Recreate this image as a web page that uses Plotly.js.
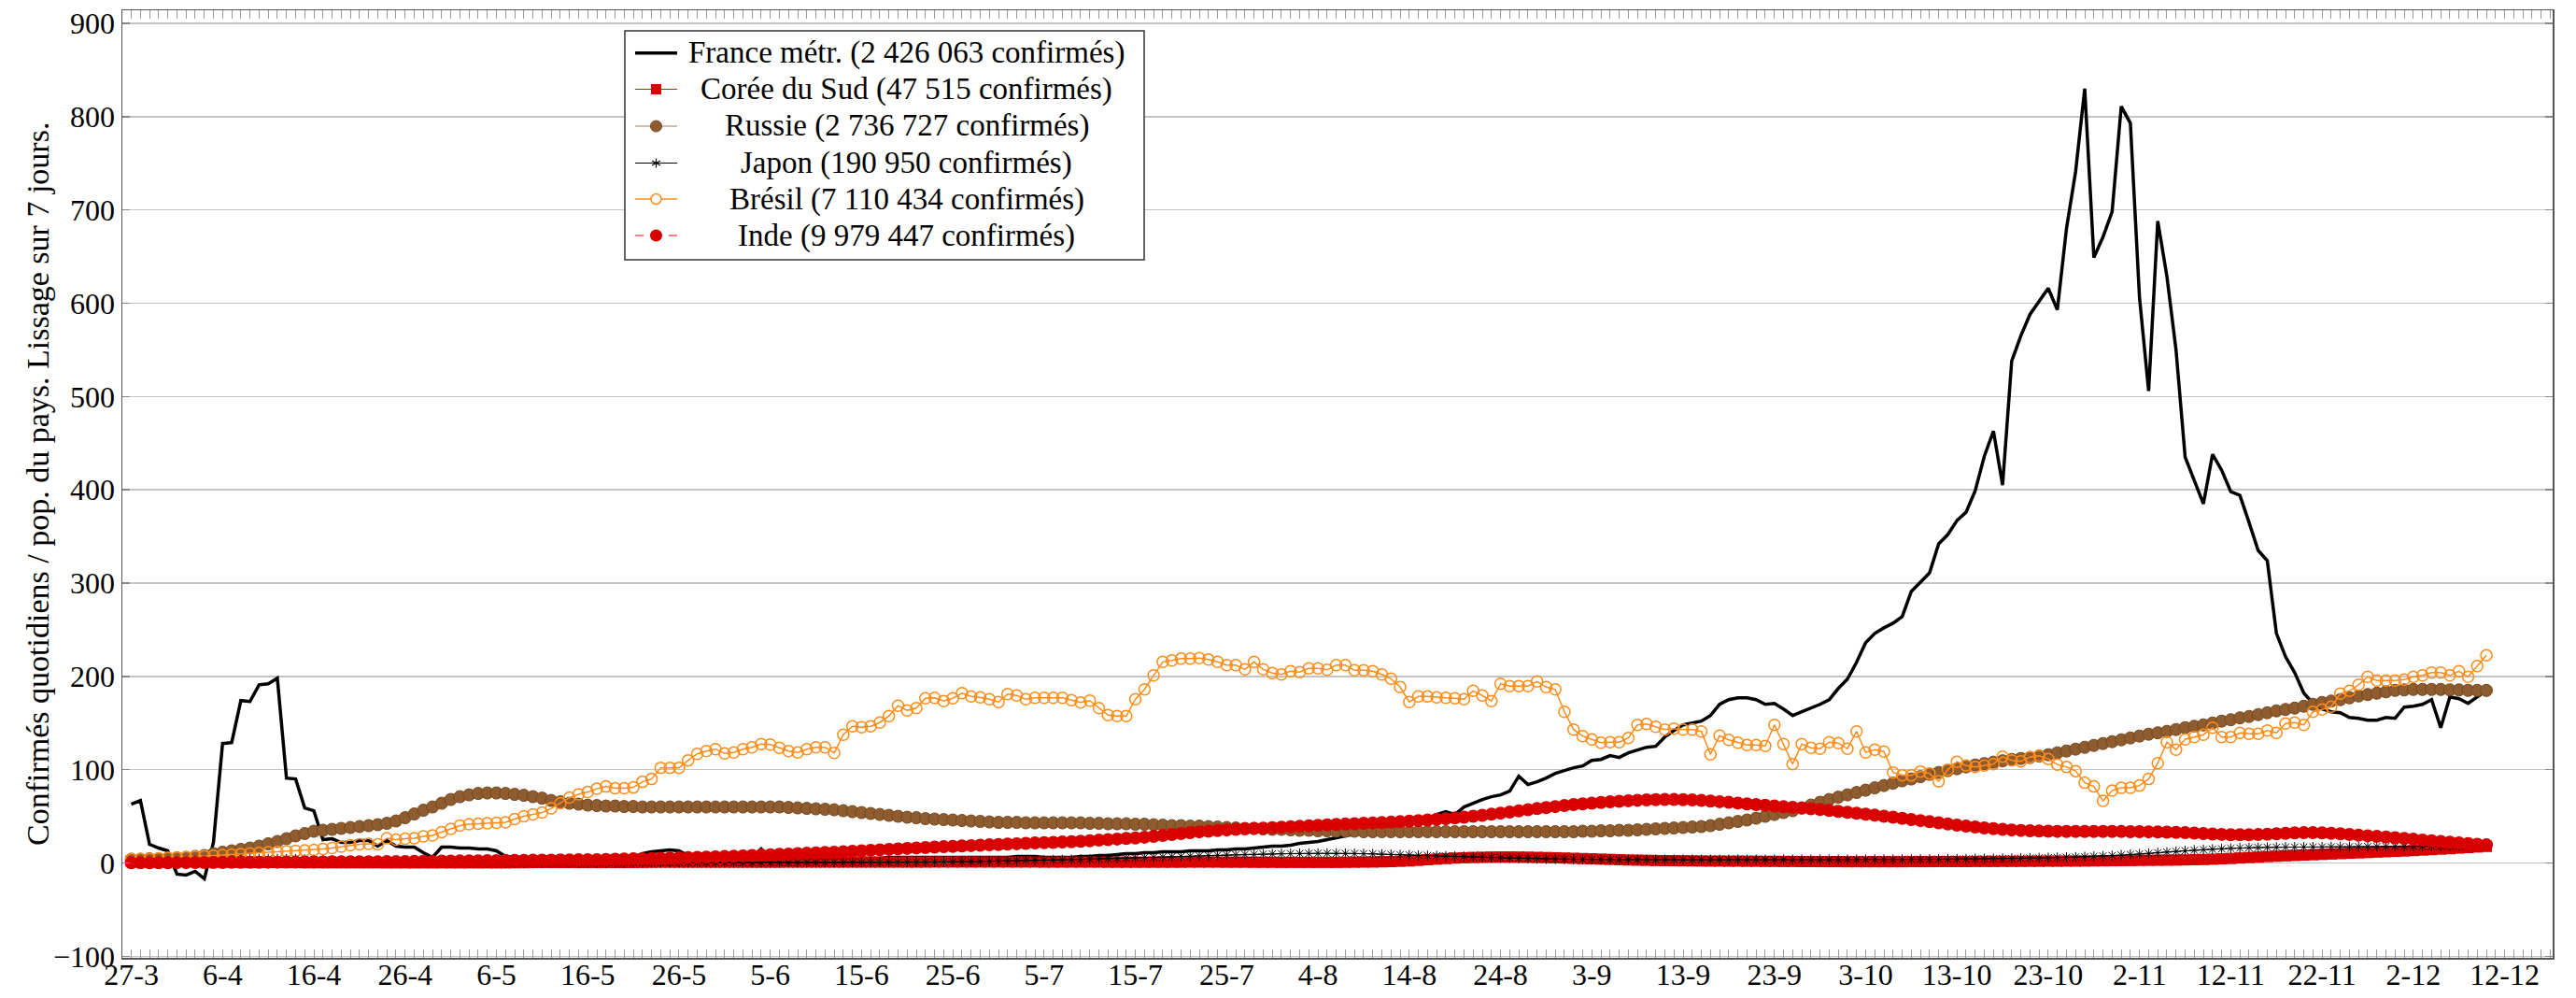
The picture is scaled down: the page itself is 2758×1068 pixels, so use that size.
<!DOCTYPE html>
<html>
<head>
<meta charset="utf-8">
<script src="https://cdn.plot.ly/plotly-3.0.1.min.js"></script>
<style>
  html, body { margin: 0; padding: 0; background: #fff; }
  #chart { width: 2758px; height: 1068px; }
</style>
</head>
<body>
<div id="chart"></div>
<script>
// ---- Data (daily, from 27-3-2020, one value per day) ----
const startDate = '2020-03-27';

const tickDates = ['2020-03-27','2020-04-06','2020-04-16','2020-04-26','2020-05-06','2020-05-16','2020-05-26',
  '2020-06-05','2020-06-15','2020-06-25','2020-07-05','2020-07-15','2020-07-25','2020-08-04','2020-08-14',
  '2020-08-24','2020-09-03','2020-09-13','2020-09-23','2020-10-03','2020-10-13','2020-10-23','2020-11-02',
  '2020-11-12','2020-11-22','2020-12-02','2020-12-12'];
const tickLabels = ['27-3','6-4','16-4','26-4','6-5','16-5','26-5','5-6','15-6','25-6','5-7','15-7','25-7',
  '4-8','14-8','24-8','3-9','13-9','23-9','3-10','13-10','23-10','2-11','12-11','22-11','2-12','12-12'];

const yTickVals = [-100,0,100,200,300,400,500,600,700,800,900];
const yTickLabels = ['\u2212100','0','100','200','300','400','500','600','700','800','900'];

const seriesNames = [
  'France métr. (2 426 063 confirmés)',
  'Corée du Sud (47 515 confirmés)',
  'Russie (2 736 727 confirmés)',
  'Japon (190 950 confirmés)',
  'Brésil (7 110 434 confirmés)',
  'Inde (9 979 447 confirmés)'
];

const france = [63,67,20,16,13,-12,-13,-9,-17,22,
128,129,174,173,191,192,198,91,90,59,
56,25,26,22,22,24,24,18,24,18,
17,17,11,6,17,17,16,16,15,15,
13,7,6,6,6,6,5,5,5,5,
5,5,5,5,5,6,10,12,13,14,
13,8,5,5,5,5,5,5,6,15,
6,5,5,5,5,5,5,5,5,5,
5,5,5,6,6,6,6,6,6,6,
6,6,6,6,6,6,6,7,7,7,
6,6,6,6,7,7,8,8,9,10,
10,11,11,12,12,12,13,13,13,14,
14,15,15,16,17,18,18,19,21,22,
23,25,27,29,31,34,36,37,38,41,
44,46,48,52,55,52,60,64,68,71,
73,77,93,84,87,91,96,99,102,104,
110,111,115,113,118,121,124,125,135,142,
148,150,152,158,170,175,177,177,175,170,
171,165,158,162,166,170,175,187,197,215,
236,246,252,257,264,291,301,311,342,352,
367,376,399,436,463,405,538,565,588,602,
616,593,680,741,830,649,671,698,811,793,
606,506,688,629,550,435,411,385,438,421,
398,394,365,335,324,246,221,204,182,171,
165,162,161,156,155,153,153,156,155,167,
168,170,175,145,178,176,171,178,185];

const coree = [2.0,1.9,1.8,1.7,1.6,1.5,1.4,1.3,1.2,1.1,
1.0,0.9,0.8,0.7,0.6,0.5,0.5,0.4,0.4,0.3,
0.3,0.3,0.2,0.2,0.2,0.2,0.2,0.2,0.1,0.1,
0.1,0.1,0.1,0.1,0.1,0.1,0.1,0.1,0.1,0.1,
0.1,0.1,0.2,0.3,0.4,0.5,0.5,0.5,0.5,0.4,
0.4,0.4,0.4,0.4,0.4,0.5,0.6,0.7,0.8,0.8,
0.8,0.8,0.8,0.8,0.8,0.8,0.8,0.8,0.8,0.8,
0.8,0.8,0.9,0.9,0.9,0.9,0.9,0.9,0.9,0.9,
0.9,0.9,0.9,0.9,0.9,0.9,0.9,0.9,1.0,1.0,
1.0,1.0,1.0,1.0,1.0,1.0,1.0,1.0,1.0,1.0,
0.9,0.9,0.9,0.9,0.9,0.9,0.9,0.8,0.8,0.8,
0.8,0.8,0.8,0.8,0.8,0.8,0.9,0.9,0.9,0.9,
0.8,0.8,0.8,0.7,0.7,0.7,0.6,0.6,0.6,0.6,
0.6,0.6,0.6,0.7,0.8,0.9,1.0,1.2,1.4,1.8,
2.2,2.8,3.5,4.1,4.7,5.2,5.6,5.9,6.1,6.3,
6.4,6.4,6.3,6.2,6.0,5.8,5.6,5.3,5.0,4.7,
4.4,4.1,3.8,3.5,3.2,3.0,2.8,2.6,2.5,2.4,
2.3,2.2,2.1,2.0,2.0,1.9,1.9,1.8,1.8,1.7,
1.7,1.6,1.6,1.5,1.5,1.4,1.4,1.4,1.3,1.3,
1.3,1.3,1.3,1.3,1.3,1.4,1.4,1.4,1.5,1.5,
1.5,1.5,1.6,1.6,1.6,1.7,1.7,1.7,1.8,1.8,
1.9,1.9,2.0,2.0,2.1,2.2,2.3,2.4,2.5,2.6,
2.7,2.8,2.9,3.0,3.1,3.3,3.5,3.7,4.0,4.4,
4.8,5.3,5.8,6.3,6.8,7.2,7.6,8.0,8.4,8.8,
9.2,9.6,10.0,10.4,10.8,11.2,11.6,12.0,12.4,12.8,
13.3,13.8,14.3,14.8,15.3,15.9,16.5,17.1,17.7];

const russie = [4,4,4.5,4.5,5,5.5,6,7,8,10,
11.5,13,14.5,16,18,20.5,23,26,29,31.5,
34,35,36,37,38,39,40,41,42.5,45,
48.5,52.5,56.5,60,64,68,71,73,74.5,75,
75,74.5,73.5,72.5,71,69.5,67,65.5,64,63,
62,61.5,61,61,60.5,60.5,60,60,60,60,
60,60,60,60,60,60,60,60,60,60,
60,60,59.5,59,58.5,58,57.5,57,56,55,
54,53,52,51,50,49,48.5,47.5,47,46.5,
46,45.5,45,44.5,44,43.5,43.5,43.5,43,43,
43,43,43,43,43,42.5,42.5,42,42,42,
41.5,41.5,41,40.5,40,40,39.5,39.5,39,38.5,
38,37.5,37,37,36.5,36,36,35.5,35,35,
34.5,34.5,34,34,34,33.5,33.5,33.5,33.5,33.5,
33.5,33.5,33.5,33.5,33.5,33.5,33.5,33.5,33.5,33.5,
33.5,33.5,33.5,33.5,33.5,33.5,33.5,33.5,33.5,34,
34,34.5,34.5,35,35,35.5,36,36.5,37,37.5,
38,38.5,39,40,41.5,43,44.5,46,48,50,
52,54,56,59,62,65,68,70.5,73,75.5,
78,80.5,83,85.5,88,90,92.5,95,97,99,
101,103,105,106.5,108,109.5,111,112,113,114.5,
116,118,120,122,124,126,128,130,132,134,
136,138,139.5,141,143,145,146.5,148,150,152,
153.5,155.5,157,159,161,163,164.5,166,168,170,
172,173.5,175,177,179,180.5,182,183.5,185,185.5,
186,186,186,186,185.5,185.5,185,185,185];

const japon = [0.8,1.0,1.2,1.4,1.6,1.8,2.0,2.3,2.6,2.9,
3.2,3.5,3.8,4.0,4.2,4.3,4.3,4.2,4.0,3.8,
3.6,3.3,3.0,2.7,2.4,2.1,1.8,1.5,1.3,1.1,
0.9,0.8,0.7,0.6,0.5,0.4,0.4,0.3,0.3,0.3,
0.3,0.2,0.2,0.2,0.2,0.2,0.2,0.2,0.2,0.2,
0.2,0.2,0.2,0.2,0.2,0.3,0.3,0.3,0.3,0.3,
0.3,0.3,0.3,0.3,0.3,0.3,0.3,0.3,0.3,0.3,
0.3,0.3,0.3,0.3,0.4,0.4,0.4,0.4,0.4,0.5,
0.5,0.5,0.6,0.6,0.7,0.7,0.8,0.9,1.0,1.1,
1.2,1.3,1.4,1.6,1.8,2.0,2.2,2.4,2.6,2.8,
3.0,3.2,3.4,3.6,3.8,4.0,4.3,4.6,4.9,5.2,
5.5,5.8,6.1,6.4,6.7,7.0,7.3,7.6,7.9,8.2,
8.5,8.8,9.1,9.3,9.5,9.7,9.9,10.0,10.1,10.2,
10.3,10.3,10.3,10.2,10.1,9.9,9.7,9.4,9.1,8.8,
8.5,8.2,7.9,7.6,7.3,7.0,6.7,6.4,6.1,5.8,
5.5,5.2,5.0,4.8,4.6,4.4,4.2,4.1,4.0,3.9,
3.8,3.7,3.6,3.6,3.5,3.5,3.5,3.5,3.5,3.5,
3.5,3.5,3.5,3.5,3.5,3.5,3.6,3.6,3.6,3.6,
3.6,3.6,3.6,3.6,3.6,3.6,3.6,3.6,3.7,3.7,
3.7,3.7,3.8,3.8,3.8,3.9,3.9,4.0,4.0,4.1,
4.2,4.3,4.4,4.5,4.6,4.7,4.8,5.0,5.2,5.4,
5.6,5.8,6.0,6.3,6.6,7.0,7.4,7.9,8.4,9.0,
9.5,10.2,10.9,11.6,12.3,13.0,13.6,14.2,14.7,15.2,
15.6,16.0,16.3,16.5,16.7,16.8,16.9,17.0,17.0,17.1,
17.1,17.2,17.3,17.4,17.5,17.5,17.6,17.6,17.7,17.7,
17.8,17.8,17.9,17.9,18.0,18.1,18.2,18.3,18.4];

const bresil = [4,4.3,4.6,5,5.4,5.8,6.2,6.7,7.2,7.8,
8.5,9,9.6,10.2,10.8,11.4,12,12.6,13,13.5,
14,15,16,17.5,19,20,20.5,20,26.5,25,
26,26.5,28.5,29.5,33,36.5,40,41.5,42,42.5,
43,43.5,47,50,52,54,58.5,64,70,73.5,
76,79.5,82,80,80,81,87,90,102,102,
102,110,117,120,122,117.5,118.5,122,124,127.5,
127,123.5,120,118.5,122,124,124,118,137.5,146.5,
145.5,146.5,150.5,157.5,168.5,163.5,166,176.5,177,173.5,
176.5,182,178.5,177.5,175.5,172.5,181,179.5,175.5,177,
177,177,177,174.5,172,174,166,158.5,157.5,157.5,
175.5,186,201,215.5,217,219,219,219.5,218,215.5,
212,212,207.5,215.5,207.5,203.5,202,205.5,204.5,208.5,
208.5,207,212,212,206.5,206.5,205.5,202,197.5,188.5,
172.5,178.5,178.5,177.5,177,176.5,175.5,184.5,179.5,173.5,
192,189.5,189.5,189.5,194.5,188.5,186,162,143,136,
132.5,129,129.5,129.5,134,148,149,146,143,144,
143,143,141,116.5,136.5,132,129,126.5,126.5,125.5,
148,127.5,106,127.5,123.5,122.5,129.5,128.5,122.5,141,
118.5,121.5,119.5,97,94,94,98,96,87.5,100,
108.5,104.5,103,104.5,106,114,110,109,113.5,115,
111.5,105.5,103,98.5,86,82,66.5,77.5,80.5,80.5,
83,90,107,129.5,121.5,132.5,135,137.5,145,135,
135,139.5,138.5,138.5,142,139.5,149.5,150.5,148,162,
164.5,167.5,181.5,184.5,191,199.5,195.5,195.5,195.5,196.5,
199.5,201,204,204,201,205.5,199.5,211,222.5];

const inde = [0.1,0.1,0.1,0.2,0.2,0.3,0.3,0.4,0.4,0.5,
0.5,0.6,0.6,0.7,0.7,0.8,0.8,0.9,0.9,1.0,
1.0,1.0,1.1,1.1,1.2,1.2,1.3,1.3,1.4,1.5,
1.5,1.6,1.7,1.8,1.9,2.0,2.1,2.2,2.3,2.4,
2.5,2.6,2.7,2.8,2.9,3.0,3.1,3.2,3.3,3.4,
3.5,3.6,3.8,4.0,4.2,4.4,4.6,4.8,5.0,5.2,
5.4,5.7,6.0,6.3,6.6,6.9,7.2,7.6,8.0,8.4,
8.8,9.2,9.6,10,10.4,10.8,11.2,11.6,12.1,12.6,
13.1,13.6,14.1,14.6,15.1,15.6,16.1,16.5,17,17.4,
17.8,18.2,18.6,19,19.4,19.8,20.2,20.6,21,21.4,
21.7,22,22.4,22.8,23.3,23.8,24.4,25,25.6,26.2,
26.8,27.6,28.5,29.4,30.4,31.4,32.4,33.4,34.1,34.8,
35.4,36,36.5,37,37.4,37.9,38.4,38.9,39.4,39.9,
40.4,40.9,41.3,41.7,42.1,42.5,42.9,43.3,43.7,44.2,
44.8,45.4,46,46.7,47.4,48.2,49,50,51,52.2,
53.4,54.6,55.8,57,58.2,59.3,60.4,61.5,62.5,63.3,
64.1,64.8,65.5,66.1,66.7,67.2,67.6,67.9,68,68,
67.8,67.5,67,66.4,65.7,65,64.2,63.4,62.6,61.8,
61,60.2,59.5,58.8,58,57.2,56.3,55.3,54.3,53.3,
52.3,51.2,50.1,49,47.8,46.6,45.4,44.2,43,41.8,
40.6,39.5,38.5,37.6,36.8,36,35.4,34.9,34.5,34.2,
34,33.9,33.8,33.8,33.8,33.8,33.8,33.8,33.7,33.6,
33.5,33.4,33.2,33,32.7,32.4,32,31.5,31,30.6,
30.3,30.2,30.2,30.4,30.8,31.3,31.8,32.2,32.4,32.4,
32.2,31.8,31.2,30.5,29.8,29.1,28.4,27.7,27,26.2,
25.4,24.6,23.8,23,22.2,21.5,20.8,20.1,19.4];

// ---- x categories: one date per value ----
function buildDates(n) {
  const t0 = Date.parse(startDate + 'T00:00:00Z');
  const out = [];
  for (let i = 0; i < n; i++) out.push(new Date(t0 + i * 86400000).toISOString().slice(0, 10));
  return out;
}
const dates = buildDates(france.length);

const FONT = 'Liberation Serif, "Times New Roman", serif';

// ---- styles ----
const styles = [
  { line: { color: '#000000', width: 3.5 }, mode: 'lines' },
  { line: { color: '#ff0000', width: 1 }, mode: 'lines+markers',
    marker: { symbol: 'square', size: 12, color: '#d80000', line: { width: 0 } } },
  { line: { color: '#a27b58', width: 1 }, mode: 'lines+markers',
    marker: { symbol: 'circle', size: 13, color: '#8e5c2f', line: { color: '#74481f', width: 1 } } },
  { line: { color: '#000000', width: 1 }, mode: 'lines+markers',
    marker: { symbol: 'asterisk-open', size: 9, color: '#000000', line: { color: '#000000', width: 1 } } },
  { line: { color: '#ff8c1a', width: 1.5 }, mode: 'lines+markers',
    marker: { symbol: 'circle-open', size: 12, color: '#ff8c1a', line: { color: '#ff8c1a', width: 1.5 } } },
  { line: { color: '#ff0000', width: 1, dash: 'dash' }, mode: 'lines+markers',
    marker: { symbol: 'circle', size: 14, color: '#d80000', line: { width: 0 } } }
];
const values = [france, coree, russie, japon, bresil, inde];

const traces = values.map((v, i) => Object.assign({
  name: seriesNames[i], x: dates, y: v, type: 'scatter', showlegend: false
}, styles[i]));

// ---- legend drawn as a box with centred entries (as in the reference) ----
const W = 2758, H = 1068, ML = 131, MR = 25, MT = 11, MB = 43;
const PW = W - ML - MR, PH = H - MT - MB;
const px2x = px => (px - ML) / PW;
const px2y = py => (H - MB - py) / PH;

const legBox = { left: 669, right: 1225, top: 33, bottom: 278 };
const legRows = [56.7, 95.5, 135, 174.5, 213, 252];
const legTextX = 970.5, legSampleX0 = 680, legSampleX1 = 725, legMarkX = 702.5;

const shapes = [{
  type: 'rect', xref: 'paper', yref: 'paper', layer: 'above',
  x0: px2x(legBox.left), x1: px2x(legBox.right), y0: px2y(legBox.bottom), y1: px2y(legBox.top),
  fillcolor: '#ffffff', line: { color: '#333333', width: 1.5 }
}];
const annotations = [];

styles.forEach((s, i) => {
  const yy = px2y(legRows[i]);
  shapes.push({ type: 'line', xref: 'paper', yref: 'paper', layer: 'above',
    x0: px2x(legSampleX0), x1: px2x(legSampleX1), y0: yy, y1: yy,
    line: { color: s.line.color, width: s.line.width, dash: s.line.dash || 'solid' } });
  if (s.marker) {
    const m = s.marker, r = (m.size - 1) / 2;
    const base = { xref: 'paper', yref: 'paper', layer: 'above', xsizemode: 'pixel', ysizemode: 'pixel',
      xanchor: px2x(legMarkX), yanchor: yy };
    if (m.symbol === 'square') {
      shapes.push(Object.assign({ type: 'rect', x0: -r, x1: r, y0: -r, y1: r,
        fillcolor: m.color, line: { width: 0 } }, base));
    } else if (m.symbol === 'circle') {
      shapes.push(Object.assign({ type: 'circle', x0: -r, x1: r, y0: -r, y1: r,
        fillcolor: m.color, line: { color: m.line.color || m.color, width: m.line.width || 0 } }, base));
    } else if (m.symbol === 'circle-open') {
      shapes.push(Object.assign({ type: 'circle', x0: -r, x1: r, y0: -r, y1: r,
        fillcolor: '#ffffff', line: { color: m.color, width: m.line.width } }, base));
    } else if (m.symbol === 'asterisk-open') {
      shapes.push(Object.assign({ type: 'path',
        path: 'M0,-5 L0,5 M-4.5,-2.6 L4.5,2.6 M-4.5,2.6 L4.5,-2.6',
        line: { color: m.color, width: 1.2 } }, base));
    }
  }
  annotations.push({ text: seriesNames[i], xref: 'paper', yref: 'paper',
    x: px2x(legTextX), y: yy, xanchor: 'center', yanchor: 'middle', showarrow: false,
    font: { family: FONT, size: 33, color: '#000000' } });
});

annotations.push({
  text: 'Confirmés quotidiens / pop. du pays. Lissage sur 7 jours.',
  xref: 'paper', yref: 'paper', x: px2x(40), y: 0.5,
  xanchor: 'center', yanchor: 'middle', textangle: -90, showarrow: false,
  font: { family: FONT, size: 34, color: '#000000' }
});

const layout = {
  width: W, height: H,
  margin: { l: ML, r: MR, t: MT, b: MB, pad: 0 },
  paper_bgcolor: '#ffffff', plot_bgcolor: '#ffffff',
  font: { family: FONT, size: 32, color: '#000000' },
  showlegend: false,
  xaxis: {
    type: 'date',
    range: ['2020-03-26 00:30', '2020-12-17 06:15'],
    tickmode: 'array', tickvals: tickDates, ticktext: tickLabels,
    ticks: 'inside', ticklen: 9, tickwidth: 1, tickcolor: '#999999',
    ticklabelstandoff: -11,
    minor: { tickmode: 'linear', tick0: startDate, dtick: 86400000, ticks: 'inside',
             ticklen: 9, tickwidth: 1, tickcolor: '#999999', showgrid: false },
    showline: true, linecolor: '#555555', linewidth: 1.5, mirror: 'allticks',
    showgrid: false, zeroline: false,
    tickfont: { family: FONT, size: 32, color: '#000000' }
  },
  yaxis: {
    range: [-101.7, 914],
    tickmode: 'array', tickvals: yTickVals, ticktext: yTickLabels,
    ticks: 'inside', ticklen: 8, tickwidth: 1.5, tickcolor: '#888888',
    showline: true, linecolor: '#555555', linewidth: 1.5, mirror: 'ticks',
    showgrid: true, gridcolor: '#c4c4c4', gridwidth: 1.5, zeroline: false,
    tickfont: { family: FONT, size: 32, color: '#000000' }
  },
  shapes: shapes,
  annotations: annotations
};

Plotly.newPlot('chart', traces, layout, { staticPlot: true, displayModeBar: false });
</script>
</body>
</html>
